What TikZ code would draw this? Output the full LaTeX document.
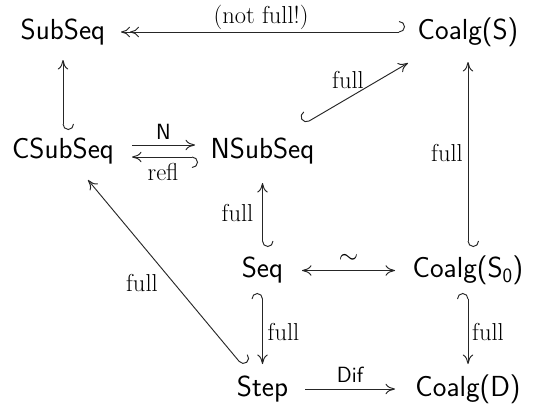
\documentclass[tikz,border=0pt]{standalone}
\usetikzlibrary{arrows.meta,calc}
\tikzset{
  obj/.style={font=\fontsize{29}{32}\sffamily, inner sep=0pt, text height=21pt, text depth=7pt},
  lbl/.style={font=\fontsize{24.5}{28}\selectfont, inner sep=0pt},
  slbl/.style={font=\fontsize{22}{26}\sffamily, inner sep=0pt},
  mor/.style={line width=0.95pt, draw=black!85},
  cmtip/.tip={Computer Modern Rightarrow[length=9.5pt,width=10.5pt]},
  dbltip/.tip={Computer Modern Rightarrow[length=9pt,width=10.5pt]Computer Modern Rightarrow[length=9pt,width=10.5pt]},
  hkR/.tip={Hooks[left,length=6pt,width=22pt]},
  hkL/.tip={Hooks[right,length=6pt,width=22pt]},
}
\begin{document}
\begin{tikzpicture}[x=1pt,y=-1pt]
\useasboundingbox (0,0) rectangle (534,410);
\node[obj] (ss)   at (63,32)      {SubSeq};
\node[obj] (cs)   at (468,32)     {Coalg(S)};
\node[obj] (css)  at (63,151)     {CSubSeq};
\node[obj] (ns)   at (262.5,151)  {NSubSeq};
\node[obj] (seq)  at (262.5,270.5){Seq};
\node[obj] (cs0)  at (468,270.5)  {Coalg(S\textsubscript{0})};
\node[obj] (step) at (262.5,389)  {Step};
\node[obj] (cd)   at (468,389)    {Coalg(D)};
% arrows
\draw[mor,{hkR}-{dbltip}] ($(cs)+(-63,0)$) -- ($(ss)+(58,0)$)
  node[lbl,midway,shift={(-2,-15)}] {(not full!)};
\draw[mor,{hkR}-{cmtip}] ($(css)+(0,-21)$) -- ($(ss)+(0,28)$);
\draw[mor,{hkL}-{cmtip}] ($(ns)+(41.5,-27)$) -- ($(cs)+(-60,31)$)
  node[lbl,midway,shift={(-8,-13.5)}] {full};
\draw[mor,{hkR}-{cmtip}] ($(cs0)+(0,-23.5)$) -- ($(cs)+(0,30)$)
  node[lbl,midway,shift={(-21,-1.5)}] {full};
\draw[mor,-{cmtip}] ($(css)+(69,-6)$) -- ($(ns)+(-67.5,-6)$)
  node[slbl,midway,shift={(0,-13)}] {N};
\draw[mor,{hkL}-{cmtip}] ($(ns)+(-64.5,6)$) -- ($(css)+(69,6)$)
  node[lbl,midway,shift={(-2,15)}] {refl};
\draw[mor,{hkR}-{cmtip}] ($(seq)+(0,-23.5)$) -- ($(ns)+(0,32)$)
  node[lbl,midway,shift={(-25,-2)}] {full};
\draw[mor,{hkR}-{cmtip}] ($(step)+(-19.5,-23)$) -- ($(css)+(25,29)$)
  node[lbl,midway,shift={(-23.5,10)}] {full};
\draw[mor,{cmtip}-{cmtip}] ($(seq)+(39.5,0)$) -- ($(cs0)+(-73,0)$)
  node[lbl,midway,shift={(0,-12)}] {$\sim$};
\draw[mor,{hkR}-{cmtip}] ($(seq)+(0,22.5)$) -- ($(step)+(0,-25)$)
  node[lbl,midway,shift={(21,3)}] {full};
\draw[mor,{hkR}-{cmtip}] ($(cs0)+(0,22.5)$) -- ($(cd)+(0,-25)$)
  node[lbl,midway,shift={(20,3)}] {full};
\draw[mor,-{cmtip}] ($(step)+(42.5,0)$) -- ($(cd)+(-73,0)$)
  node[slbl,midway,shift={(0,-14)}] {Dif};
\end{tikzpicture}
\end{document}
